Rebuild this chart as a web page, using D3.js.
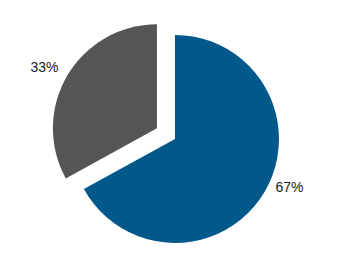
<!DOCTYPE html>
<html>
<head>
<meta charset="utf-8">
<script src="https://cdn.jsdelivr.net/npm/d3@7"></script>
<style>
  body { margin: 0; background: #fff; }
  svg { display: block; }
</style>
</head>
<body>
<div id="chart"></div>
<script>
// slice data, in drawing order (clockwise from 12 o'clock)
const categories = ["A", "B"]
const values = [67, 33]
const labels = ["67%", "33%"]
const colors = ["#00588b", "#555558"]

const width = 346
const height = 253
const cx = 175, cy = 139
const radius = 104
const explode = [0, 21]      // gray slice pulled out
const labelRadius = [124, 128]
const labelNudge = [-0.14, -0.03] // radians, puts labels where the original sits

const svg = d3.select("#chart")
    .append("svg")
        .attr("width", width)
        .attr("height", height)

const pie = d3.pie().sort(null).value(d => d)
const arcs = pie(values)

const arc = d3.arc().innerRadius(0).outerRadius(radius)

const g = svg.append("g")
    .attr("transform", "translate(" + cx + "," + cy + ")")

g.selectAll("path")
    .data(arcs)
    .enter()
    .append("path")
        .attr("d", arc)
        .attr("fill", (d, i) => colors[i])
        .attr("transform", (d, i) => {
            const a = (d.startAngle + d.endAngle) / 2
            return "translate(" + (Math.sin(a) * explode[i]) + "," + (-Math.cos(a) * explode[i]) + ")"
        })

g.selectAll("text")
    .data(arcs)
    .enter()
    .append("text")
        .attr("x", (d, i) => {
            const a = (d.startAngle + d.endAngle) / 2 + labelNudge[i]
            return Math.sin(a) * (labelRadius[i] + explode[i])
        })
        .attr("y", (d, i) => {
            const a = (d.startAngle + d.endAngle) / 2 + labelNudge[i]
            return -Math.cos(a) * (labelRadius[i] + explode[i])
        })
        .attr("text-anchor", "middle")
        .attr("dominant-baseline", "central")
        .attr("font-family", "Liberation Sans, Arial, sans-serif")
        .attr("font-size", 14)
        .attr("fill", "#1a1a1a")
        .text((d, i) => labels[i])
</script>
</body>
</html>
